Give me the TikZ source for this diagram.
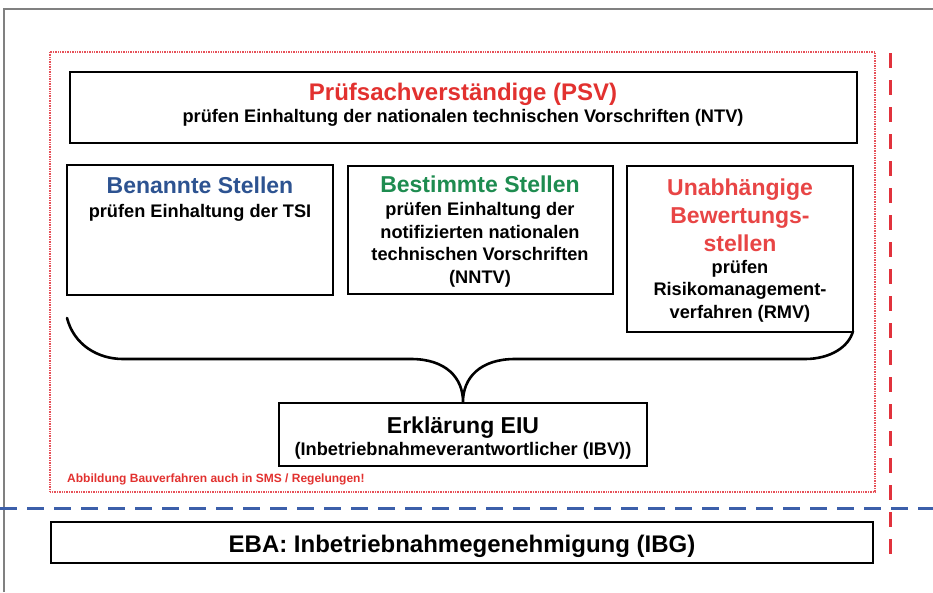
\documentclass[tikz,border=0pt]{standalone}
\usepackage{fontspec}
\setmainfont{Liberation Sans}
\usepackage{xcolor}
\definecolor{PSVRed}{HTML}{E2312F}
\definecolor{UBSRed}{HTML}{E84545}
\definecolor{BenanntBlue}{HTML}{2D5391}
\definecolor{BestimmtGreen}{HTML}{1E8C50}
\definecolor{LineBlue}{HTML}{3C5FAA}
\definecolor{LineRed}{HTML}{E1323C}
\definecolor{FrameGray}{HTML}{808080}
\tikzset{
    % Box styles - sharp corners, white fill
    mainbox/.style={
        rectangle,
        draw=black,
        fill=white,
        line width=2.6pt,
        inner sep=0pt
    },
    stellebox/.style={
        rectangle,
        draw=black,
        fill=white,
        line width=2pt,
        inner sep=0pt
    },
    % Text styles (base = last line)
    titletext/.style={
        anchor=base,
        align=center,
        inner sep=0pt,
        font=\bfseries\fontsize{23}{28}\selectfont
    },
    subtext/.style={
        anchor=base,
        align=center,
        inner sep=0pt,
        font=\bfseries\fontsize{18.2}{22.5}\selectfont
    },
    % Line styles
    bracebow/.style={
        line width=2.6pt,
        line cap=round,
        draw=black
    },
    reddots/.style={
        draw=LineRed!85,
        line width=1.3pt,
        dash pattern=on 0.8pt off 0.9pt
    },
    reddash/.style={
        draw=LineRed,
        line width=3pt,
        dash pattern=on 15pt off 12pt
    },
    bluedash/.style={
        draw=LineBlue,
        line width=3pt,
        dash pattern=on 17pt off 10pt
    }
}
\begin{document}
\begin{tikzpicture}[x=1pt, y=-1pt]
    \useasboundingbox (0,0) rectangle (933,592);
    \draw[FrameGray, line width=1.2pt] (4,592) -- (4,9) -- (933,9);

    % scope of the building procedure
    \draw[reddots] (50,52) rectangle (875,492);

    % brace joining the three bodies
    \coordinate (braceL) at (67,318);
    \coordinate (braceR) at (853,331);

    \node[mainbox, minimum width=787, minimum height=71] (psv) at (463.5,107.5) {};
    \node[stellebox, minimum width=266, minimum height=130] (benannt) at (200,230) {};
    \node[stellebox, minimum width=265, minimum height=128] (bestimmt) at (480.5,230) {};
    \node[mainbox, minimum width=368, minimum height=63] (eiu) at (463,434.5) {};
    \node[mainbox, minimum width=822, minimum height=41] (eba) at (462,542.5) {};

    \draw[bracebow] (braceL) .. controls (74,345) and (98,359) .. (123,359) -- (411,359)
        .. controls (446,359) and (463,378) .. (eiu.north)
        .. controls (463,378) and (480,359) .. (515,359) -- (805,359)
        .. controls (830,359) and (849,347) .. (braceR);

    \node[stellebox, minimum width=226, minimum height=166] (unabh) at (740,249) {};

    \node[titletext, text=PSVRed, font=\bfseries\fontsize{24}{28}\selectfont] (psvtitle) at (463,100) {Prüfsachverständige (PSV)};
    \node[subtext] (psvsub) at (463,122) {prüfen Einhaltung der nationalen technischen Vorschriften (NTV)};

    \node[titletext, text=BenanntBlue] (benannttitle) at (200,193) {Benannte Stellen};
    \node[subtext] (benanntsub) at (200,217) {prüfen Einhaltung der TSI};

    \node[titletext, text=BestimmtGreen] (bestimmttitle) at (480,192) {Bestimmte Stellen};
    \node[subtext] (bestimmtsub) at (480,283) {prüfen Einhaltung der\\notifizierten nationalen\\technischen Vorschriften\\(NNTV)};

    \node[titletext, text=UBSRed] (unabhtitle) at (740,251) {Unabhängige\\Bewertungs-\\stellen};
    \node[subtext] (unabhsub) at (740,318) {prüfen\\Risikomanagement-\\verfahren (RMV)};

    \node[titletext] (eiutitle) at (463,433) {Erklärung EIU};
    \node[subtext] (eiusub) at (463,455) {(Inbetriebnahmeverantwortlicher (IBV))};

    \node[anchor=base west, inner sep=0pt, text=PSVRed, font=\bfseries\fontsize{12}{14}\selectfont] (note) at (67,482) {Abbildung Bauverfahren auch in SMS / Regelungen!};

    \node[titletext, font=\bfseries\fontsize{24}{28}\selectfont] (ebatext) at (462,552) {EBA: Inbetriebnahmegenehmigung (IBG)};

    % approval boundary lines
    \draw[bluedash] (0,508) -- (933,508);
    \draw[reddash] (890,53) -- (890,563);
\end{tikzpicture}
\end{document}
